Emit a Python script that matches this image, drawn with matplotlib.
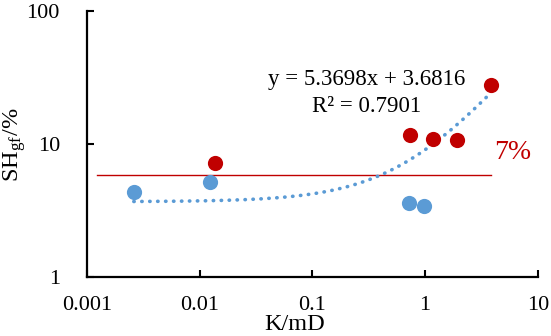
import numpy as np
import matplotlib
matplotlib.use("Agg")
import matplotlib.pyplot as plt

plt.rcParams['font.family'] = ['Liberation Serif', 'DejaVu Serif']
plt.rcParams['mathtext.fontset'] = 'stix'

# data
red_k = [0.0137, 0.733, 1.17, 1.90, 3.88]
red_sh = [7.2, 11.7, 11.0, 10.7, 27.8]
blue_k = [0.00261, 0.0123, 0.72, 0.975]
blue_sh = [4.33, 5.15, 3.58, 3.42]
trend_slope = 5.3698
trend_intercept = 3.6816
trend_range = [0.0026, 3.88]
thresh_value = 5.85
thresh_range = [0.00122, 3.88]
xticks = [0.001, 0.01, 0.1, 1, 10]
xticklabels = ['0.001', '0.01', '0.1', '1', '10']
yticks = [1, 10, 100]
yticklabels = ['1', '10', '100']

red = '#C00000'
blue = '#5B9BD5'

fig = plt.figure(figsize=(5.51, 3.36), dpi=100)
ax = fig.add_axes([0.158, 0.1756, 0.818, 0.7916])
ax.set_xscale('log')
ax.set_yscale('log')
ax.set_xlim(0.001, 10)
ax.set_ylim(1, 100)

ax.plot(thresh_range, [thresh_value, thresh_value], color=red, lw=1.0, zorder=2)

tx = np.logspace(np.log10(trend_range[0]), np.log10(trend_range[1]), 300)
ty = trend_slope * tx + trend_intercept
ax.plot(tx, ty, color=blue, lw=2.6, linestyle=(0, (0.1, 2.1)),
        dash_capstyle='round', zorder=3)

ax.scatter(blue_k, blue_sh, s=120, color=blue, zorder=4, linewidths=0)
ax.scatter(red_k, red_sh, s=120, color=red, zorder=4, linewidths=0)

ax.set_xticks(xticks)
ax.set_xticklabels(xticklabels)
ax.set_yticks(yticks)
ax.set_yticklabels(yticklabels)
ax.minorticks_off()
ax.tick_params(direction='in', length=5, width=1.5, labelsize=16)
ax.tick_params(axis='x', pad=14)
ax.tick_params(axis='y', pad=19.5)
for s in ['top', 'right']:
    ax.spines[s].set_visible(False)
for s in ['left', 'bottom']:
    ax.spines[s].set_linewidth(1.6)

ax.set_xlabel('K/mD', fontsize=17.5)
ax.xaxis.set_label_coords((294.5 - 87) / 451, -(314 - 277) / 266)
ax.set_ylabel(r'SH$_{\mathregular{gf}}$/%', fontsize=17.5)
ax.yaxis.set_label_coords(-(87 - 28) / 451, (277 - 145) / 266)

ax.text(367 / 551, 1 - 80 / 336, 'y = 5.3698x + 3.6816', transform=fig.transFigure,
        ha='center', va='center', fontsize=16.5)
ax.text(367 / 551, 1 - 107 / 336, 'R² = 0.7901', transform=fig.transFigure,
        ha='center', va='center', fontsize=16.5)
ax.text(513 / 551, 1 - 153 / 336, '7%', transform=fig.transFigure,
        ha='center', va='center', fontsize=20, color=red)

fig.savefig('out.png', dpi=100)
